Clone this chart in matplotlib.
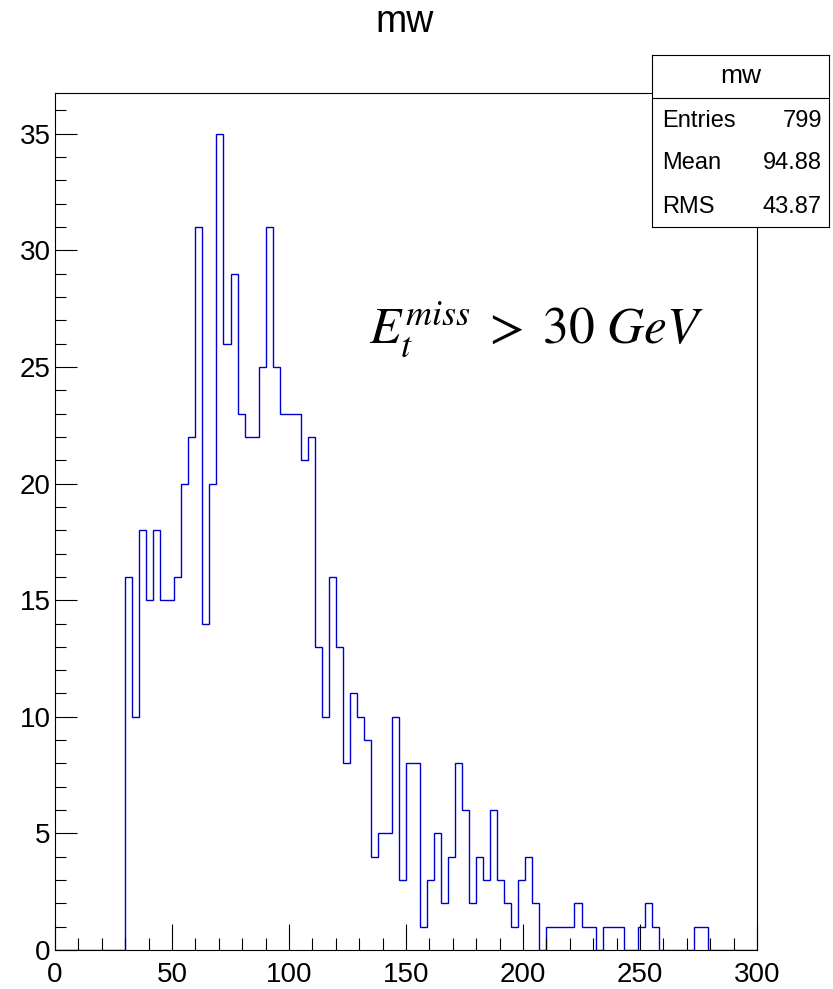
import numpy as np
import matplotlib
matplotlib.use("Agg")
import matplotlib.pyplot as plt
from matplotlib.ticker import MultipleLocator

plt.rcParams['font.family'] = ['Liberation Sans', 'DejaVu Sans']
plt.rcParams['mathtext.fontset'] = 'stix'

# histogram "mw": 100 bins of width 3 between 0 and 300
edges = np.linspace(0, 300, 101)
counts = [0] * 10 + [
    16, 10, 18, 15, 18, 15, 15, 16, 20, 22,
    31, 14, 20, 35, 26, 29, 23, 22, 22, 25,
    31, 25, 23, 23, 23, 21, 22, 13, 10, 16,
    13, 8, 11, 10, 9, 4, 5, 5, 10, 3,
    8, 8, 1, 3, 5, 2, 4, 8, 6, 2,
    4, 3, 6, 3, 2, 1, 3, 4, 2, 0,
    1, 1, 1, 1, 2, 1, 1, 0, 1, 1,
    1, 0, 0, 1, 2, 1, 0, 0, 0, 0,
    0, 1, 1, 0, 0, 0, 0, 0, 0, 0,
]
stat_names = ['Entries', 'Mean', 'RMS']
stat_values = ['799', '94.88', '43.87']

W, H = 833, 989
fig = plt.figure(figsize=(W / 100, H / 100), dpi=100)
ax = fig.add_axes([55 / W, (H - 950) / H, 702 / W, (950 - 93) / H])

ax.stairs(counts, edges, color='#0000cc', lw=1.0)
ax.set_xlim(0, 300)
ax.set_ylim(0, max(counts) * 1.05)

ax.xaxis.set_major_locator(MultipleLocator(50))
ax.xaxis.set_minor_locator(MultipleLocator(10))
ax.yaxis.set_major_locator(MultipleLocator(5))
ax.yaxis.set_minor_locator(MultipleLocator(1))
ax.tick_params(axis='both', which='both', direction='in', top=False, right=False,
               width=0.8, labelsize=20)
ax.tick_params(axis='x', which='major', length=19, pad=9)
ax.tick_params(axis='x', which='minor', length=9)
ax.tick_params(axis='y', which='major', length=16, pad=3)
ax.tick_params(axis='y', which='minor', length=8)
for s in ax.spines.values():
    s.set_linewidth(0.8)

fig.text(405 / W, 1 - 22 / H, 'mw', fontsize=27, ha='center', va='center')

ax.text(134, 26.05, r'$E_t^{miss}\;>\;30\ GeV$', fontsize=37, ha='left', va='baseline')

# stats box
bx0, by0, bx1, by1 = 652, 55, 829, 227
box = fig.add_axes([bx0 / W, 1 - by1 / H, (bx1 - bx0) / W, (by1 - by0) / H])
box.set_xticks([])
box.set_yticks([])
box.set_xlim(0, 1)
box.set_ylim(0, 1)
for s in box.spines.values():
    s.set_linewidth(0.8)
hline = (by1 - 98) / (by1 - by0)
box.axhline(hline, color='black', lw=0.8)
box.text(0.5, (by1 - 76) / (by1 - by0), 'mw', fontsize=19, ha='center', va='center')
rows_y = [121, 163, 207]
for name, val, yy in zip(stat_names, stat_values, rows_y):
    yf = (by1 - yy) / (by1 - by0)
    box.text(0.055, yf, name, fontsize=17, ha='left', va='center')
    box.text(0.96, yf, val, fontsize=17, ha='right', va='center')

fig.savefig('out.png', dpi=100)
